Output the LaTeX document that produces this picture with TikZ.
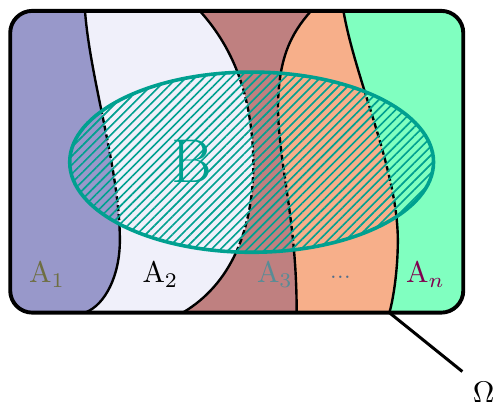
\documentclass[tikz,border=0pt]{standalone}
\usepackage{amsmath, amssymb}
\usepackage{xcolor}
\usepackage{tikz}
\usetikzlibrary{calc, patterns.meta}

\definecolor{mauMot}{RGB}{152,152,202}
\definecolor{mauHai}{RGB}{240,240,250}
\definecolor{mauBa}{RGB}{191,128,128}
\definecolor{mauBon}{RGB}{247,175,138}
\definecolor{mauN}{RGB}{128,255,192}
\definecolor{mauB}{RGB}{0,160,144}
\definecolor{chuMot}{RGB}{110,110,66}
\definecolor{chuBa}{RGB}{88,140,150}
\definecolor{chuBon}{RGB}{80,110,140}
\definecolor{chuN}{RGB}{128,0,80}

% Các đường biên chia Omega
\newcommand{\duongMot}{(1.00,4.66) .. controls (1.06,3.85) and (1.41,2.79) .. (1.41,1.96) .. controls (1.41,1.55) and (1.24,1.20) .. (1.00,1.11)}
\newcommand{\duongHai}{(2.35,4.66) .. controls (2.71,4.26) and (2.96,3.73) .. (2.98,2.91) .. controls (2.99,2.08) and (2.71,1.44) .. (2.15,1.11)}
\newcommand{\duongBa}{(3.66,4.66) .. controls (3.41,4.38) and (3.27,4.08) .. (3.27,3.49) .. controls (3.29,2.79) and (3.49,2.20) .. (3.49,1.11)}
\newcommand{\duongBon}{(4.04,4.66) .. controls (4.18,3.85) and (4.68,2.79) .. (4.68,1.96) .. controls (4.68,1.55) and (4.61,1.20) .. (4.58,1.11)}
\newcommand{\khungOmega}{(0.12,1.11) rectangle (5.45,4.66)}
\newcommand{\tapB}{(2.96,2.88) ellipse (2.14 and 1.06)}

\begin{document}
\begin{tikzpicture}[>=latex,
    bien/.style={line width=0.8pt},
    nhan/.style={anchor=base}]
    \useasboundingbox (0,0) rectangle (5.835,4.788);

    % Tô màu các tập A_i
    \begin{scope}
        \clip[rounded corners=0.26cm] \khungOmega;
        \fill[mauN] (0,0) rectangle (6,5);
        \fill[mauBon] \duongBon -- (0,1.11) -- (0,4.66) -- cycle;
        \fill[mauBa] \duongBa -- (0,1.11) -- (0,4.66) -- cycle;
        \fill[mauHai] \duongHai -- (0,1.11) -- (0,4.66) -- cycle;
        \fill[mauMot] \duongMot -- (0,1.11) -- (0,4.66) -- cycle;
    \end{scope}

    % Nét đứt bên trong B
    \begin{scope}
        \clip \tapB;
        \foreach \d in {\duongMot, \duongHai, \duongBa, \duongBon}
            \draw[bien, dash pattern=on 2pt off 1pt] \d;
    \end{scope}

    % Nét liền bên ngoài B (khung đi ngược chiều để khoét lỗ)
    \begin{scope}
        \clip (-1,-1) -- (-1,6) -- (7,6) -- (7,-1) -- cycle \tapB;
        \foreach \d in {\duongMot, \duongHai, \duongBa, \duongBon}
            \draw[bien] \d;
    \end{scope}

    % Tập B gạch chéo
    \fill[pattern={Lines[angle=45, distance=2.12pt, line width=0.55pt]}, pattern color=mauB] \tapB;
    \draw[mauB, line width=1.2pt] \tapB;
    \node[mauB] (B) at (2.26,2.89) {\huge B};

    % Khung Omega
    \draw[line width=1.3pt, rounded corners=0.26cm] \khungOmega;

    % Nhãn
    \node[nhan, chuMot] (A1) at (0.553,1.459) {$\mathrm{A}_1$};
    \node[nhan] (A2) at (1.888,1.459) {$\mathrm{A}_2$};
    \node[nhan, chuBa] (A3) at (3.235,1.459) {$\mathrm{A}_3$};
    \node[nhan, chuBon] (Ak) at (4.029,1.459) {$\scriptstyle\cdots$};
    \node[nhan, chuN] (An) at (5.006,1.459) {$\mathrm{A}_n$};

    % Chú thích Omega
    \coordinate (chan) at (4.58,1.11);
    \node[nhan] (omega) at (5.69,0.053) {$\Omega$};
    \draw[line width=1pt] (chan) -- (omega.north west);
\end{tikzpicture}
\end{document}
